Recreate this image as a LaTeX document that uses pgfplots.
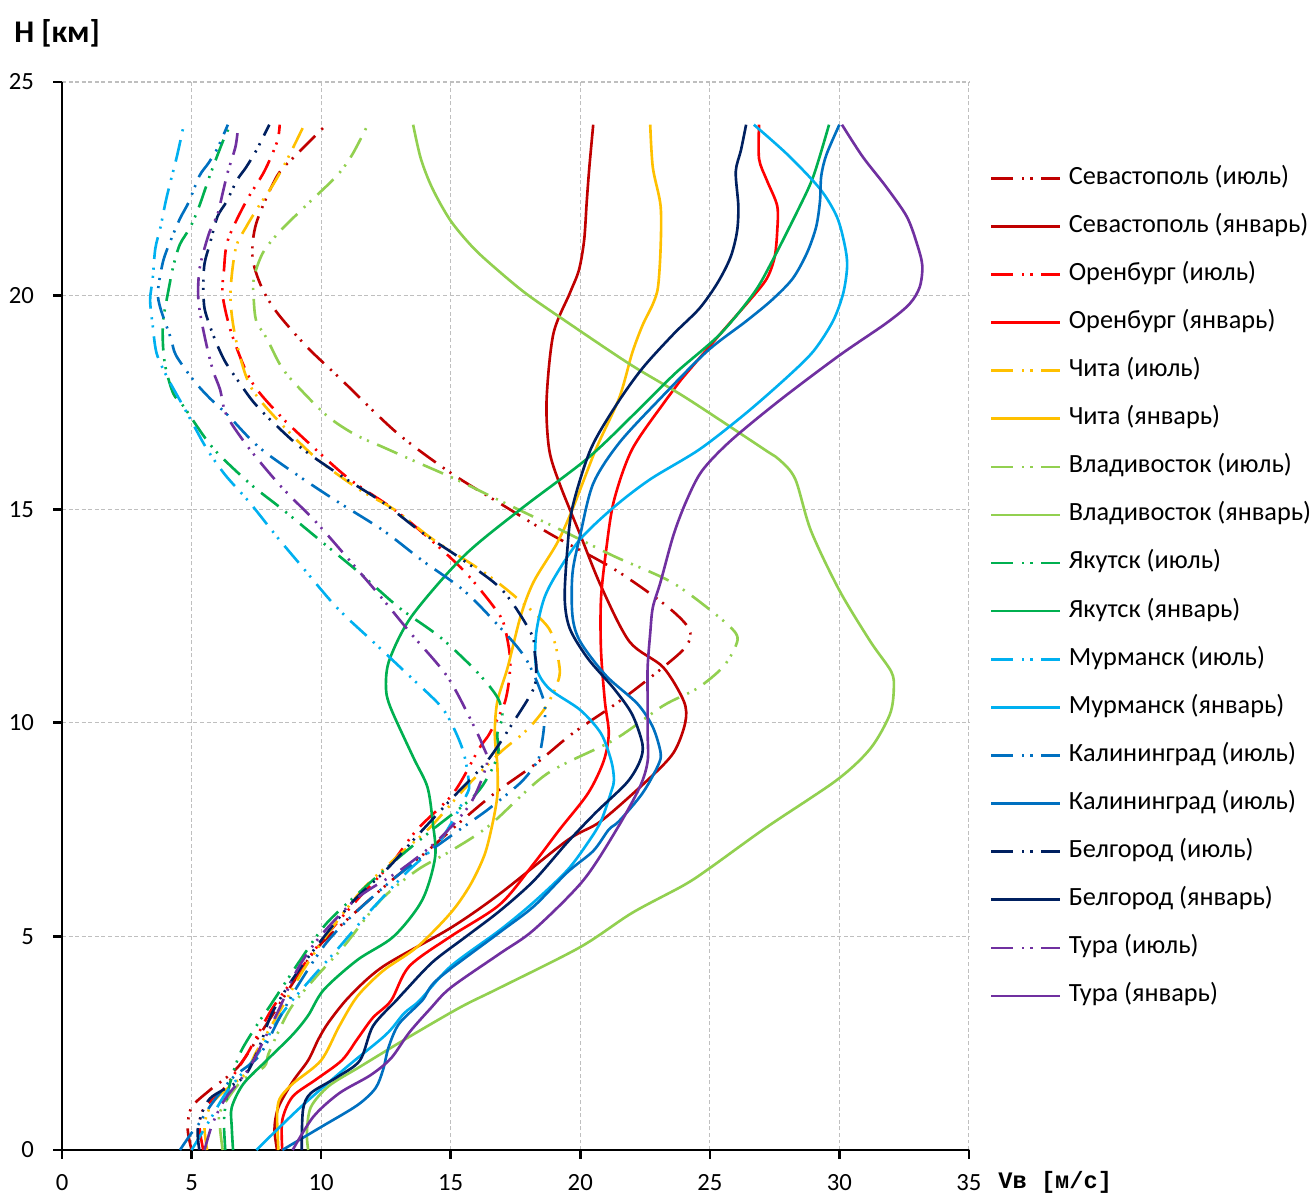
\documentclass[border=0pt]{standalone}
\usepackage{pgfplots}
\pgfplotsset{compat=1.18}
\usepackage{fontspec}
\setmainfont{Carlito}
\newfontfamily\monofam{Liberation Mono}
\definecolor{cSev}{HTML}{C00000}
\definecolor{cOre}{HTML}{FF0000}
\definecolor{cChi}{HTML}{FFC000}
\definecolor{cVla}{HTML}{92D050}
\definecolor{cYak}{HTML}{00B050}
\definecolor{cMur}{HTML}{00B0F0}
\definecolor{cKal}{HTML}{0070C0}
\definecolor{cBel}{HTML}{002060}
\definecolor{cTur}{HTML}{7030A0}
\pgfplotsset{
  dd/.style={dash pattern=on 8.4pt off 3.4pt on 0.8pt off 2.3pt on 0.8pt off 3.3pt},
}
\begin{document}
\begin{tikzpicture}
\begin{axis}[
  at={(0,0)}, anchor=south west,
  scale only axis, width=345.1pt, height=406.4pt,
  xmin=0, xmax=35, ymin=0, ymax=25,
  xtick={0,5,...,35}, ytick={0,5,...,25},
  axis x line*=bottom, axis y line*=left,
  x axis line style={-, line width=1pt, black},
  y axis line style={-, line width=1pt, black},
  xtick pos=left, ytick pos=left,
  tick align=outside, major tick length=3.4pt,
  tick style={black, line width=1pt},
  grid=major, grid style={line width=0.4pt, color=black!25, dash pattern=on 1.5pt off 1pt},
  ticklabel style={font=\fontsize{9.4}{11}\selectfont},
  yticklabel style={xshift=-3.8pt},
  xticklabel style={yshift=-2.3pt},
  /pgf/number format/assume math mode=true,
  every axis plot/.append style={line width=1pt, smooth},
  legend style={at={(axis description cs:1.0232,0.9215)}, anchor=north west, draw=none, fill=none,
    inner sep=0pt, outer sep=0pt, row sep=8.8pt, column sep=3pt,
    font=\fontsize{10}{12}\selectfont,
    nodes={inner sep=0pt, text height=7pt, text depth=2.5pt}},
  legend cell align=left,
  legend image code/.code={\draw[#1] (0pt,0pt) -- (26pt,0pt);},
]
% Севастополь (июль)
\addplot[cSev, dd] coordinates {(5.0,0) (4.85,0.5) (5.0,1.0) (5.7,1.4) (6.8,1.95) (7.95,3.0) (8.9,3.9) (9.8,4.7) (11.2,5.5) (12.7,6.3) (14.1,7.0) (15.6,7.8) (16.8,8.4) (18.3,9.05) (19.7,9.75) (21.5,10.5) (23.2,11.3) (24.1,11.8) (24.2,12.2) (23.3,12.75) (21.3,13.6) (18.9,14.4) (17.0,15.1) (15.0,15.85) (12.9,16.8) (10.75,18.05) (9.45,18.8) (8.3,19.6) (7.7,20.2) (7.35,20.9) (7.5,21.7) (8.3,22.8) (9.05,23.3) (10.2,24.0)};
\addlegendentry{Севастополь (июль)}
% Севастополь (январь)
\addplot[cSev] coordinates {(8.3,0) (8.2,0.5) (8.35,1.0) (8.9,1.6) (9.5,2.1) (9.9,2.6) (10.3,3.0) (11.1,3.6) (12.4,4.3) (15.0,5.2) (16.9,6.0) (19.5,7.25) (20.8,7.7) (22.6,8.66) (23.6,9.3) (24.05,10.0) (24.0,10.5) (23.2,11.3) (21.9,11.9) (20.8,13.2) (20.0,14.4) (19.2,15.6) (18.8,16.4) (18.7,17.55) (18.96,19.1) (19.6,20.06) (19.95,20.6) (20.15,21.3) (20.25,22.2) (20.35,23.0) (20.5,24)};
\addlegendentry{Севастополь (январь)}
% Оренбург (июль)
\addplot[cOre, dd] coordinates {(5.45,0) (5.3,0.6) (5.5,1.0) (6.2,1.4) (7.1,2.2) (8.1,3.3) (9.06,4.1) (9.96,4.85) (11.6,6.0) (12.7,6.7) (13.7,7.5) (15.1,8.35) (16.1,9.4) (16.5,9.75) (17.1,10.5) (17.3,11.4) (17.1,12.2) (16.8,12.6) (15.6,13.5) (14.2,14.3) (12.8,15.0) (11.1,15.7) (9.7,16.45) (8.4,17.2) (7.3,18.0) (6.55,19.1) (6.2,20.0) (6.25,20.6) (6.4,21.3) (7.1,22.2) (7.8,22.9) (8.3,23.6) (8.4,24.0)};
\addlegendentry{Оренбург (июль)}
% Оренбург (январь)
\addplot[cOre] coordinates {(8.5,0) (8.5,0.7) (8.9,1.25) (9.8,1.65) (10.8,2.1) (11.4,2.6) (12.0,3.1) (12.7,3.5) (13.4,4.3) (15.0,5.0) (16.9,5.75) (18.2,6.7) (19.2,7.5) (20.3,8.35) (20.9,9.1) (21.1,9.75) (20.95,10.5) (20.8,11.7) (20.8,12.9) (21.0,14.05) (21.3,15.2) (22.0,16.4) (23.3,17.55) (23.85,18.0) (25.4,19.1) (26.55,19.9) (27.2,20.4) (27.5,20.9) (27.6,21.5) (27.6,22.1) (27.2,22.7) (26.9,23.2) (26.9,24)};
\addlegendentry{Оренбург (январь)}
% Чита (июль)
\addplot[cChi, dd] coordinates {(5.6,0) (5.5,0.6) (5.8,1.1) (6.5,1.5) (7.1,1.8) (7.5,2.3) (8.5,3.35) (9.3,4.2) (10.3,5.1) (11.6,6.1) (12.9,6.85) (14.2,7.55) (15.6,8.5) (16.9,9.3) (17.7,9.7) (18.2,10.0) (18.7,10.4) (19.1,10.9) (19.2,11.3) (18.8,12.2) (17.4,13.0) (16.1,13.6) (14.3,14.3) (12.8,15.0) (11.5,15.45) (9.8,16.2) (8.3,17.1) (7.25,17.9) (6.7,19.0) (6.5,20.0) (6.7,21.1) (7.1,21.6) (7.6,22.1) (8.15,22.6) (8.7,23.2) (9.35,24.0)};
\addlegendentry{Чита (июль)}
% Чита (январь)
\addplot[cChi] coordinates {(8.35,0) (8.3,0.8) (8.4,1.2) (8.9,1.55) (10.0,2.1) (10.7,2.9) (11.4,3.6) (12.4,4.2) (13.7,4.75) (15.0,5.55) (15.75,6.2) (16.3,6.9) (16.6,7.6) (16.8,8.3) (16.8,9.0) (16.7,9.75) (16.8,10.5) (17.2,11.3) (17.7,12.5) (18.2,13.3) (19.1,14.2) (19.7,15.0) (20.6,16.4) (21.5,17.6) (22.0,18.65) (22.4,19.3) (22.8,19.8) (23.0,20.2) (23.1,21.1) (23.1,22.1) (22.8,23.0) (22.7,24.0)};
\addlegendentry{Чита (январь)}
% Владивосток (июль)
\addplot[cVla, dd] coordinates {(6.2,0) (6.1,0.5) (6.1,0.9) (6.9,1.6) (7.8,1.95) (8.0,2.3) (8.8,3.3) (9.8,4.05) (10.85,4.75) (12.3,5.85) (13.7,6.55) (15.0,7.0) (16.5,7.6) (18.7,8.8) (21.3,9.6) (23.2,10.4) (24.5,10.8) (25.5,11.3) (26.0,11.8) (26.0,12.1) (25.1,12.6) (23.5,13.3) (21.3,13.9) (19.3,14.5) (16.9,15.2) (15.2,15.7) (13.7,16.1) (12.4,16.45) (11.3,16.75) (10.2,17.2) (8.9,18.0) (8.4,18.4) (7.9,19.0) (7.5,19.4) (7.4,19.9) (7.4,20.4) (7.75,21.0) (8.4,21.5) (9.4,22.1) (10.6,22.8) (11.2,23.3) (11.8,24.0)};
\addlegendentry{Владивосток (июль)}
% Владивосток (январь)
\addplot[cVla] coordinates {(9.5,0) (9.45,0.4) (9.6,1.0) (10.3,1.5) (11.5,1.95) (13.4,2.65) (15.4,3.35) (16.9,3.8) (20.0,4.75) (22.0,5.55) (24.0,6.2) (25.0,6.6) (27.2,7.56) (29.9,8.66) (31.2,9.4) (31.95,10.2) (32.1,10.8) (32.0,11.2) (31.2,11.9) (30.0,13.1) (28.9,14.5) (28.3,15.7) (27.7,16.15) (27.1,16.4) (24.1,17.6) (21.9,18.4) (19.2,19.5) (17.9,20.05) (16.9,20.55) (15.9,21.1) (15.0,21.75) (14.3,22.5) (13.85,23.2) (13.55,24)};
\addlegendentry{Владивосток (январь)}
% Якутск (июль)
\addplot[cYak, dd] coordinates {(6.3,0) (6.25,0.6) (6.3,1.0) (6.5,1.6) (6.9,2.3) (7.6,3.0) (8.0,3.35) (9.2,4.45) (10.2,5.3) (11.6,6.1) (13.0,6.85) (14.3,7.5) (16.0,8.35) (16.8,9.2) (16.8,9.75) (17.0,10.15) (16.8,10.6) (16.0,11.2) (14.6,12.0) (13.0,12.7) (11.5,13.5) (10.1,14.2) (8.5,15.0) (7.25,15.6) (5.8,16.45) (4.7,17.4) (4.3,17.7) (4.0,18.3) (3.9,18.8) (3.9,19.4) (4.1,20.1) (4.3,20.7) (4.55,21.2) (4.95,21.6) (5.3,22.1) (5.7,22.8) (6.2,23.6) (6.5,24)};
\addlegendentry{Якутск (июль)}
% Якутск (январь)
\addplot[cYak] coordinates {(6.6,0) (6.55,0.54) (6.55,1.0) (7.0,1.55) (7.9,2.1) (8.9,2.7) (9.5,3.15) (10.1,3.75) (11.4,4.45) (12.8,5.0) (13.9,5.85) (14.4,6.86) (14.3,7.7) (14.1,8.5) (13.55,9.2) (12.65,10.4) (12.5,10.9) (12.65,11.5) (13.5,12.5) (15.5,13.9) (17.7,15.0) (20.3,16.2) (22.2,17.3) (23.7,18.2) (25.4,19.1) (26.7,20.06) (27.4,20.8) (28.4,22.0) (29.0,22.8) (29.6,24)};
\addlegendentry{Якутск (январь)}
% Мурманск (июль)
\addplot[cMur, dd] coordinates {(5.0,0) (5.4,0.4) (5.8,0.8) (6.4,1.4) (7.5,2.2) (8.5,3.2) (9.6,4.0) (10.7,4.75) (11.9,5.6) (13.3,6.5) (14.6,7.25) (15.6,8.3) (15.7,8.6) (15.5,9.3) (15.1,9.9) (14.6,10.4) (13.4,11.1) (12.0,11.9) (10.6,12.7) (9.2,13.7) (8.3,14.35) (7.25,15.15) (6.3,15.8) (5.6,16.4) (5.05,17.0) (4.55,17.55) (4.05,18.1) (3.65,18.65) (3.5,19.3) (3.4,19.9) (3.5,20.4) (3.6,21.1) (3.8,21.6) (4.0,22.2) (4.2,22.7) (4.45,23.3) (4.7,24)};
\addlegendentry{Мурманск (июль)}
% Мурманск (январь)
\addplot[cMur] coordinates {(7.5,0) (9.2,1.0) (11.0,1.95) (12.5,2.7) (13.2,3.2) (13.8,3.5) (15.0,4.3) (16.9,5.15) (18.2,5.8) (19.5,6.55) (20.3,7.2) (20.8,7.7) (21.2,8.4) (21.3,8.66) (21.2,9.1) (20.8,9.75) (20.0,10.3) (18.8,10.8) (18.3,11.3) (18.3,12.1) (18.6,12.9) (19.1,13.5) (20.0,14.3) (21.3,15.05) (22.7,15.7) (24.6,16.4) (26.4,17.25) (28.0,18.1) (29.0,18.7) (29.75,19.4) (30.15,20.06) (30.3,20.7) (30.2,21.2) (29.9,21.85) (29.25,22.5) (28.0,23.3) (26.7,24)};
\addlegendentry{Мурманск (январь)}
% Калининград (июль)
\addplot[cKal, dd] coordinates {(4.55,0) (5.0,0.4) (5.2,0.54) (5.8,1.1) (6.6,1.7) (7.6,2.2) (8.4,3.1) (9.05,3.8) (10.2,4.85) (11.4,5.6) (12.9,6.4) (14.2,7.0) (15.7,7.65) (16.5,8.0) (17.7,8.6) (18.3,9.05) (18.45,9.3) (18.6,9.9) (18.6,10.5) (17.9,11.5) (16.8,12.3) (15.5,13.1) (13.9,13.8) (12.4,14.5) (10.7,15.15) (9.2,15.75) (7.6,16.45) (6.4,17.2) (5.7,17.6) (5.1,18.0) (4.4,18.6) (4.2,19.0) (3.8,19.7) (3.7,20.1) (3.9,20.8) (4.2,21.3) (4.55,21.8) (4.9,22.2) (5.3,22.8) (5.65,23.1) (6.0,23.45) (6.4,24)};
\addlegendentry{Калининград (июль)}
% Калининград (январь)
\addplot[cKal] coordinates {(8.5,0) (10.0,0.54) (11.4,1.05) (12.1,1.45) (12.4,1.9) (12.6,2.4) (13.0,2.95) (13.9,3.5) (14.5,4.0) (16.9,5.1) (18.2,5.7) (19.5,6.5) (20.5,7.0) (21.1,7.5) (21.5,7.7) (22.4,8.35) (23.0,9.0) (23.1,9.3) (22.8,9.9) (22.2,10.45) (21.0,11.1) (20.0,11.9) (19.7,12.5) (19.7,13.5) (20.0,14.4) (20.5,15.6) (21.5,16.55) (23.1,17.6) (24.9,18.7) (26.4,19.4) (27.4,19.9) (28.2,20.4) (28.75,21.0) (29.1,21.6) (29.25,22.2) (29.3,22.8) (29.5,23.3) (30.0,24)};
\addlegendentry{Калининград (июль)}
% Белгород (июль)
\addplot[cBel, dd] coordinates {(5.3,0) (5.25,0.54) (5.7,1.2) (7.0,1.7) (7.6,2.4) (8.1,3.2) (8.9,4.0) (9.8,4.75) (11.2,5.8) (12.5,6.55) (13.7,7.35) (15.0,8.2) (16.4,9.1) (17.4,10.0) (18.2,10.8) (18.3,11.3) (18.25,11.6) (18.1,12.1) (17.0,13.1) (15.5,13.8) (13.9,14.45) (12.4,15.15) (10.85,15.75) (9.3,16.4) (8.2,17.0) (7.4,17.5) (6.8,18.0) (6.3,18.45) (5.95,18.9) (5.7,19.3) (5.5,19.7) (5.45,20.2) (5.5,20.75) (5.7,21.2) (6.0,21.85) (6.35,22.2) (6.75,22.7) (7.1,23.0) (7.5,23.4) (8.0,24)};
\addlegendentry{Белгород (июль)}
% Белгород (январь)
\addplot[cBel] coordinates {(9.25,0) (9.3,0.94) (9.6,1.33) (10.6,1.7) (11.5,2.1) (12.0,2.9) (12.9,3.5) (13.2,3.7) (14.3,4.4) (15.6,5.0) (16.9,5.6) (18.2,6.3) (19.5,7.2) (20.6,7.9) (21.8,8.6) (22.3,9.1) (22.4,9.5) (22.0,10.2) (21.3,10.8) (20.3,11.5) (19.6,12.2) (19.4,12.9) (19.5,14.05) (19.7,15.05) (20.4,16.4) (21.4,17.45) (22.4,18.3) (23.6,19.1) (24.6,19.7) (25.3,20.3) (25.8,20.9) (26.05,21.5) (26.1,22.1) (26.0,22.9) (26.2,23.4) (26.4,24)};
\addlegendentry{Белгород (январь)}
% Тура (июль)
\addplot[cTur, dd] coordinates {(5.5,0) (5.8,0.6) (6.3,1.2) (7.25,1.95) (8.3,3.2) (9.06,4.2) (9.96,5.0) (11.4,5.9) (13.05,6.55) (14.5,7.25) (15.75,8.1) (16.4,9.05) (16.25,9.45) (15.75,10.1) (14.85,11.1) (13.45,12.1) (12.3,12.95) (11.1,13.8) (9.8,14.7) (8.5,15.5) (7.25,16.4) (6.35,17.2) (6.1,17.8) (5.85,18.2) (5.65,18.65) (5.45,19.2) (5.3,19.7) (5.25,20.1) (5.3,20.6) (5.45,21.0) (5.7,21.5) (6.0,21.9) (6.2,22.4) (6.4,22.9) (6.7,23.5) (6.8,24)};
\addlegendentry{Тура (июль)}
% Тура (январь)
\addplot[cTur] coordinates {(8.9,0) (9.7,0.78) (10.7,1.33) (11.9,1.75) (12.7,2.15) (13.4,2.75) (14.2,3.3) (15.0,3.8) (16.9,4.6) (18.2,5.15) (20.1,6.3) (21.4,7.5) (22.3,8.5) (22.6,9.1) (22.6,9.75) (22.6,10.5) (22.6,11.3) (22.7,12.1) (22.8,12.7) (23.1,13.3) (23.6,14.4) (24.1,15.2) (24.7,15.9) (25.8,16.6) (27.7,17.55) (30.0,18.6) (31.8,19.35) (32.7,19.8) (33.1,20.2) (33.2,20.7) (33.0,21.2) (32.6,21.85) (31.8,22.55) (30.9,23.25) (30.1,24)};
\addlegendentry{Тура (январь)}
\end{axis}
\node[anchor=west, font=\bfseries\fontsize{12}{14}\selectfont] at (-21.7pt,425pt) {H [км]};
\node[anchor=west, font=\monofam\bfseries\fontsize{9}{11}\selectfont] at (352.8pt,-12.2pt) {Vв [м/с]};
\pgfresetboundingbox
\path[use as bounding box] (-23.6pt,-17.9pt) rectangle (476.4pt,437.6pt);
\end{tikzpicture}
\end{document}
